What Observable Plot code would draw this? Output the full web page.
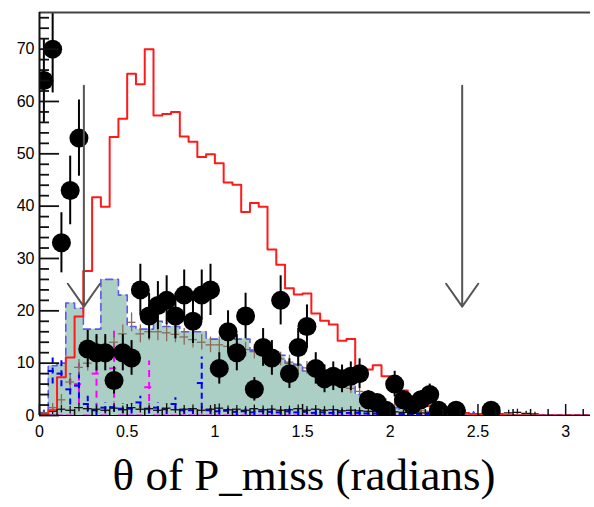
<!DOCTYPE html>
<html><head><meta charset="utf-8">
<script src="https://cdn.jsdelivr.net/npm/d3@7"></script>
<script src="https://cdn.jsdelivr.net/npm/@observablehq/plot@0.6"></script>
<style>
body{margin:0;background:#fff;}
#chart svg{display:block;}
#caption{width:580px;padding-left:14px;text-align:center;font-family:"Liberation Serif","Times New Roman",serif;font-size:45px;line-height:50px;height:57px;color:#000;white-space:nowrap;}
</style></head><body>
<div id="chart"></div>
<div id="caption">θ of P_miss (radians)</div>
<script>
// ---- bins (lower edges, width 0.05) ----
const binWidth = 0.05;
const binLow = [0,0.05,0.1,0.15,0.2,0.25,0.3,0.35,0.4,0.45,0.5,0.55,0.6,0.65,0.7,0.75,0.8,0.85,0.9,0.95,1,1.05,1.1,1.15,1.2,1.25,1.3,1.35,1.4,1.45,1.5,1.55,1.6,1.65,1.7,1.75,1.8,1.85,1.9,1.95,2,2.05,2.1,2.15,2.2,2.25,2.3,2.35,2.4,2.45,2.5,2.55,2.6,2.65,2.7,2.75,2.8,2.85,2.9,2.95,3,3.05,3.1];

// red open histogram
const redHist = [0.3,1,7.3,11.1,18.9,27.6,41.7,39.9,53.2,56.7,65.3,63.3,70,
  57.3,57.6,58,53.3,52.3,49.4,49.9,48.2,44.5,44.1,38.9,40.6,39.9,
  31.7,28.8,24.3,23.1,23.3,19.5,18.1,17.4,14.3,14.6,9.2,8.8,9.6,
  7.5,5.5,4.8,3.5,2.5,1.8,1.2,0.8,0.6,0.5,0.3,0.3,0.2,0.1,
  0,0,0,0,0,0,0,0,0,0];

// teal filled histogram (blue dashed outline)
const tealHist = [0.5,9.5,10,21.5,20.5,16.5,16.5,26,26,23,17,16.5,16.5,
  18,17,17,16,16,16,14.6,14.6,14.6,14.6,14.6,12.5,12.3,
  12,11.5,10,9.8,8.5,8,7.5,7,6.5,6,4,3,2.5,
  2,1.5,1.2,1,0.8,0.6,0.5,0.3,0.2,0.2,0.1,0.1,0,0,
  0,0,0,0,0,0,0,0,0,0];

// brown MC crosses
const brownVal = [0.5,1.5,3,6.4,9.2,10,10.5,12.5,14,15.6,17.8,15.6,16,
  16,15.8,15.5,15,14.5,14,13.5,13.5,13.2,13,12.6,12.2,11.8,
  11.3,10.8,10.2,9.6,9.1,8.4,7.7,6.9,6,5.2,4.6,3.8,3,
  2.5,2,1.6,1.3,1,0.8,0.6,0.5,0.4,0.3,0.2,0.2,0.1,0.1,
  0.1,0.1,0.1,0,0,0,0,0,0,0];
const brownErr = [0.5,0.8,1,1.3,1.5,1.5,1.5,1.6,1.6,1.7,1.8,1.7,1.7,
  1.7,1.7,1.6,1.6,1.6,1.5,1.5,1.5,1.5,1.5,1.4,1.4,1.4,
  1.4,1.3,1.3,1.3,1.2,1.2,1.1,1.1,1,1,0.9,0.9,0.8,
  0.7,0.7,0.6,0.6,0.5,0.5,0.4,0.4,0.4,0.3,0.3,0.3,0.2,0.2,
  0.2,0.2,0.2,0,0,0,0,0,0,0];

// black small MC crosses near zero
const blackMcVal = [0.3,0.8,1.2,1,1.5,1.3,1.2,1,1.4,1.1,1.5,1.2,1.3,
  1,1.4,1.1,1.2,1.3,1,1.2,1.4,1.1,1.2,1,1.3,1.1,
  1.2,1,1.1,1.3,1,1.2,1,1.1,0.9,1,0.9,0.8,0.8,
  0.7,0.7,0.6,0.6,0.5,0.5,0.5,0.4,0.4,0.4,0.3,0.3,0.3,0.3,
  0.5,0.6,0.4,0.3,0,0,0,0,0,0];
const blackMcErr = [0.3,0.6,0.7,0.7,0.8,0.7,0.7,0.7,0.8,0.7,0.8,0.7,0.7,
  0.7,0.8,0.7,0.7,0.7,0.7,0.7,0.8,0.7,0.7,0.7,0.7,0.7,
  0.7,0.7,0.7,0.7,0.7,0.7,0.7,0.7,0.6,0.7,0.6,0.6,0.6,
  0.6,0.6,0.5,0.5,0.5,0.5,0.5,0.4,0.4,0.4,0.4,0.4,0.4,0.4,
  0.5,0.6,0.4,0.3,0,0,0,0,0,0];

// blue crosses
const blueVal = [0.5,8.5,8,5,5.7,2.2,1,1.5,1.6,1.3,1.3,2.5,1.3,
  1.5,1.2,2.2,1,1,6.2,1,0.8,0.9,0.7,0.8,0.6,0.8,
  0.7,0.6,0.8,0.6,0.7,0.5,0.6,0.5,0.6,0.5,0.5,0.4,0.4,
  0.4,0.3,0.3,0.3,0.3,0.3,0.3,0.3,0.3,0.6,0.3,0.2,0.2,0,
  0,0,0,0,0,0,0,0,0,0];
const blueErr = [0.5,2.5,2.5,3,2.5,1.5,1,1,1,1,1,1.2,1,
  1,1,1.2,0.8,0.8,5,0.8,0.7,0.7,0.7,0.7,0.6,0.7,
  0.6,0.6,0.7,0.6,0.6,0.5,0.6,0.5,0.6,0.5,0.5,0.4,0.4,
  0.4,0.3,0.3,0.3,0.3,0.3,0.3,0.3,0.3,0.5,0.3,0.2,0.2,0,
  0,0,0,0,0,0,0,0,0,0];

// magenta crosses
const magentaVal = [0,0,0,0,6,0,8,0,9,0,0,0,5.4,
  0,0,0,0,0,0,0,0,0,0,0,0,0,
  0,0,0,0,0,0,0,0,0,0,0,0,0,
  0,0,0,0,0,0,0,0,0,0,0,0,0,0,
  0,0,0,0,0,0,0,0,0,0];
const magentaErr = [0,0,0,0,4,0,7,0,8,0,0,0,5,
  0,0,0,0,0,0,0,0,0,0,0,0,0,
  0,0,0,0,0,0,0,0,0,0,0,0,0,
  0,0,0,0,0,0,0,0,0,0,0,0,0,0,
  0,0,0,0,0,0,0,0,0,0];

// black data points (bin centres) with Poisson errors
const dataX = [0.025,0.075,0.125,0.175,0.225,0.275,0.325,0.375,0.425,0.475,0.525,0.575,0.625,0.675,0.725,0.775,0.825,0.875,0.925,0.975,1.025,1.075,1.125,1.175,1.225,1.275,1.325,1.375,1.425,1.475,1.525,1.575,1.625,1.675,1.725,1.775,1.825,1.875,1.925,1.975,2.025,2.075,2.125,2.175,2.225,2.275,2.375,2.575];
const dataY = [64,70,33,43,53,12.7,12,12,6.7,12,11,24,19,21,22,19,23,18,23,24,9,16,12,19,5,13,11,22,8,13,17,9,7,7.5,7,7.5,8,3,2.5,1,6,3,2,3,4,1,1,1];

// cut arrows
const cutX = [0.253, 2.41];
const arrowTop = [63, 63];
const arrowTip = [20.8, 20.8];

// axis ticks
const xMajor = [0,0.5,1,1.5,2,2.5,3];
const xMinor = [0.1,0.2,0.3,0.4,0.6,0.7,0.8,0.9,1.1,1.2,1.3,1.4,1.6,1.7,1.8,1.9,2.1,2.2,2.3,2.4,2.6,2.7,2.8,2.9,3.1];
const yMajor = [0,10,20,30,40,50,60,70];
const yMinor = [2,4,6,8,12,14,16,18,22,24,26,28,32,34,36,38,42,44,46,48,52,54,56,58,62,64,66,68,72,74,76];

// ---- build tables ----
const rowsOf = (vals, errs) => binLow.map((x0, i) => ({x0, x1: x0 + binWidth, xc: x0 + binWidth / 2, v: vals[i], e: errs ? errs[i] : 0}));
const stepOf = (vals) => [...binLow.map((x, i) => ({x, y: vals[i]})), {x: binLow[binLow.length - 1] + binWidth, y: vals[vals.length - 1]}];
const points = dataX.map((x, i) => ({x, y: dataY[i], e: Math.sqrt(dataY[i])}));
const arrows = cutX.map((x, i) => ({x, top: arrowTop[i], tip: arrowTip[i]}));

function crosses(rows, color, dash, sw) {
  const nz = rows.filter(r => r.v > 0 || r.e > 0);
  return [
    Plot.ruleY(rows, {y: "v", x1: "x0", x2: "x1", stroke: color, strokeWidth: sw, strokeDasharray: dash, clip: true}),
    Plot.ruleX(nz, {x: "xc", y1: r => Math.max(0, r.v - r.e), y2: r => r.v + r.e, stroke: color, strokeWidth: sw, strokeDasharray: dash, clip: true})
  ];
}

const W = 594, H = 450, mL = 39, mR = 4, mT = 12, mB = 35;
const fw = W - mL - mR, fh = H - mT - mB;

const chart = Plot.plot({
  width: W, height: H,
  marginLeft: mL, marginRight: mR, marginTop: mT, marginBottom: mB,
  style: {fontFamily: "'Liberation Sans', Arial, sans-serif", fontSize: "16px", background: "#fff"},
  x: {domain: [0, Math.PI], axis: null},
  y: {domain: [0, 77], axis: null},
  marks: [
    Plot.areaY(stepOf(tealHist), {x: "x", y: "y", curve: "step-after", fill: "#abcfc5", clip: true}),
    Plot.line(stepOf(tealHist), {x: "x", y: "y", curve: "step-after", stroke: "#5a5aee", strokeWidth: 1.6, strokeDasharray: "7,5", clip: true}),
    ...crosses(rowsOf(magentaVal, magentaErr), "#ff00ff", "7,5", 2),
    ...crosses(rowsOf(blueVal, blueErr), "#0000ff", "6,4", 2),
    ...crosses(rowsOf(blackMcVal, blackMcErr), "#111", null, 1.3),
    ...crosses(rowsOf(brownVal, brownErr), "#8a6b5c", null, 1.3),
    Plot.line(stepOf(redHist), {x: "x", y: "y", curve: "step-after", stroke: "#ff1a1a", strokeWidth: 2, clip: true}),
    Plot.ruleX(points, {x: "x", y1: d => d.y - d.e, y2: d => d.y + d.e, stroke: "#000", strokeWidth: 2, clip: true}),
    Plot.dot(points, {x: "x", y: "y", r: 9.5, fill: "#000", clip: true}),
    Plot.arrow(arrows, {x1: "x", y1: "top", x2: "x", y2: "tip", stroke: "#555", strokeWidth: 2, headLength: 21, headAngle: 70}),
    // frame
    Plot.ruleY([77], {stroke: "#444", strokeWidth: 2}),
    Plot.ruleY([0], {stroke: "#000", strokeWidth: 1}),
    Plot.ruleX([0], {stroke: "#111", strokeWidth: 2}),
    // ticks (inside)
    Plot.tickY(yMajor, {y: d => d, stroke: "#111", strokeWidth: 1.8, insetRight: fw - 20}),
    Plot.tickY(yMinor, {y: d => d, stroke: "#111", strokeWidth: 1.8, insetRight: fw - 10}),
    Plot.tickX(xMajor, {x: d => d, stroke: "#111", strokeWidth: 1.5, insetTop: fh - 11}),
    Plot.tickX(xMinor, {x: d => d, stroke: "#111", strokeWidth: 1.5, insetTop: fh - 6}),
    Plot.axisY(yMajor, {tickSize: 0, tickPadding: 5, fontSize: 16, label: null, tickFormat: d => String(d)}),
    Plot.axisX(xMajor, {tickSize: 0, tickPadding: 10, fontSize: 16, label: null, tickFormat: d => String(d)})
  ]
});
document.getElementById("chart").appendChild(chart);
</script>
</body></html>
